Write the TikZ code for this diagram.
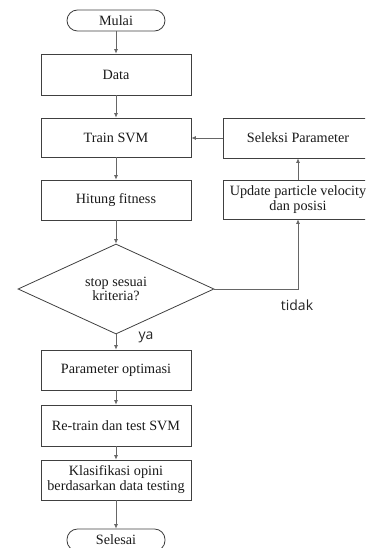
\documentclass[tikz,border=0pt]{standalone}
\usepackage{fontspec}
\setmainfont{Liberation Serif}
\newfontfamily\labelfont{Open Sans}
\usetikzlibrary{shapes.geometric,arrows.meta}

\tikzset{
  boxline/.style={draw=black!75, line width=0.8pt},
  procbox/.style={boxline, rectangle, minimum width=150pt, minimum height=40pt,
    inner sep=0pt, align=center, font=\fontsize{14.2}{15}\selectfont, text=black!90},
  termbox/.style={boxline, rectangle, rounded corners=10.5pt, minimum width=98pt,
    minimum height=21pt, inner sep=0pt, font=\fontsize{14.2}{15}\selectfont, text=black!90},
  decbox/.style={boxline, diamond, aspect=2.18, minimum width=196pt, minimum height=90pt,
    inner sep=0pt, align=center, font=\fontsize{14.2}{14}\selectfont, text=black!90},
  flow/.style={draw=black!60, line width=0.7pt, -{Latex[length=4.5pt,width=4pt]}},
  branch/.style={font=\labelfont\fontsize{14}{16}\selectfont, text=black!85}
}

\begin{document}
\begin{tikzpicture}[x=1pt,y=-1pt]
  \useasboundingbox (0,0) rectangle (365,548);
  \clip (0,0) rectangle (365,548);

  % main column
  \node[termbox] (mulai) at (116,20.5) {Mulai};
  \node[procbox, minimum height=41pt] (data) at (116,74.5) {Data};
  \node[procbox, minimum height=39pt] (train) at (116,137.5) {Train SVM};
  \node[procbox] (fit) at (116,200) {Hitung fitness};
  \node[decbox] (stop) at (116,289) {stop sesuai\\kriteria?};
  \node[procbox] (param) at (116,370) {Parameter optimasi};
  \node[procbox, minimum height=41pt] (retrain) at (116,425.5) {Re-train dan test SVM};
  \node[procbox] (klas) at (116,480) {Klasifikasi opini\\berdasarkan data testing};
  \node[termbox, minimum height=22pt] (selesai) at (116,540) {Selesai};

  % loop column
  \node[procbox] (seleksi) at (298,138) {Seleksi Parameter};
  \node[procbox, minimum height=39pt] (update) at (298,199.5) {Update particle velocity\\dan posisi};

  % connectors
  \draw[flow] (mulai) -- (data);
  \draw[flow] (data) -- (train);
  \draw[flow] (train) -- (fit);
  \draw[flow] (fit) -- (stop);
  \draw[flow] (stop) -- (param);
  \draw[flow] (param) -- (retrain);
  \draw[flow] (retrain) -- (klas);
  \draw[flow] (klas) -- (selesai);
  \draw[flow] (stop.east) -| (update.south);
  \draw[flow] (update) -- (seleksi);
  \draw[flow] (seleksi.west) -- (train.east |- seleksi.west);

  % branch labels
  \node[branch] (ya) at (146,337) {ya};
  \node[branch] (tidak) at (297,305) {tidak};
\end{tikzpicture}
\end{document}
